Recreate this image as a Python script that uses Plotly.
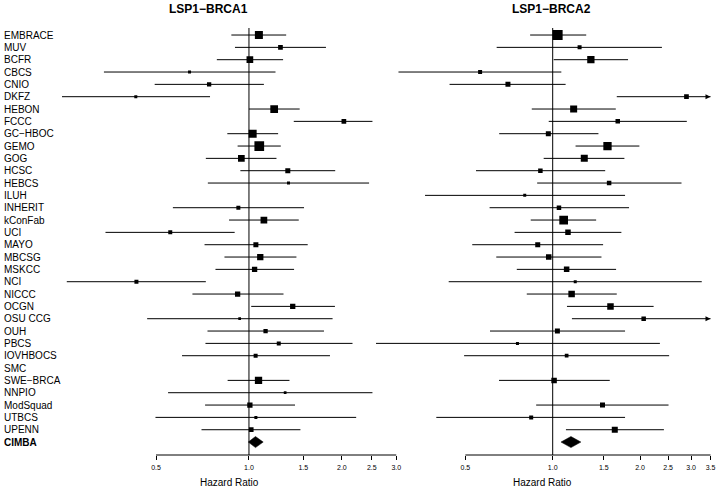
import plotly.graph_objects as go

studies = ["EMBRACE", "MUV", "BCFR", "CBCS", "CNIO", "DKFZ", "HEBON", "FCCC", "GC−HBOC", "GEMO",
           "GOG", "HCSC", "HEBCS", "ILUH", "INHERIT", "kConFab", "UCI", "MAYO", "MBCSG", "MSKCC",
           "NCI", "NICCC", "OCGN", "OSU CCG", "OUH", "PBCS", "IOVHBOCS", "SMC", "SWE−BRCA", "NNPIO",
           "ModSquad", "UTBCS", "UPENN"]
pooled_label = "CIMBA"

# LSP1-BRCA1
b1_hr = [1.077, 1.265, 1.007, 0.642, 0.743, 0.430, 1.207, 2.03, 1.028, 1.08,
         0.945, 1.336, 1.343, None, 0.924, 1.118, 0.556, 1.053, 1.088, 1.043,
         0.432, 0.919, 1.386, 0.933, 1.132, 1.249, 1.051, None, 1.074, 1.31,
         1.007, 1.053, 1.017]
b1_lo = [0.877, 0.901, 0.787, 0.339, 0.495, 0.248, 1.0, 1.397, 0.851, 0.919,
         0.725, 0.938, 0.736, None, 0.567, 0.862, 0.343, 0.718, 0.833, 0.779,
         0.257, 0.656, 1.017, 0.468, 0.734, 0.723, 0.607, None, 0.853, 0.547,
         0.721, 0.498, 0.702]
b1_hi = [1.32, 1.776, 1.29, 1.219, 1.118, 0.748, 1.46, 2.96, 1.243, 1.268,
         1.228, 1.903, 2.45, None, 1.508, 1.45, 0.899, 1.55, 1.425, 1.40,
         0.725, 1.294, 1.899, 1.866, 1.75, 2.165, 1.83, None, 1.353, 3.4,
         1.41, 2.225, 1.468]
b1_wt = [8, 4.7, 6.7, 3, 4.3, 3, 7.7, 4.7, 8, 9.7,
         6.7, 5, 3, None, 4, 6.7, 4, 5, 6.3, 5.3,
         4, 5.3, 5.3, 2.7, 4.3, 4, 4, None, 7.3, 2.7,
         5.3, 3, 4.7]
b1_pool = [1.05, 0.995, 1.112]  # hr, lo, hi

# LSP1-BRCA2
b2_hr = [1.04, 1.238, 1.354, 0.562, 0.701, 2.892, 1.181, 1.676, 0.966, 1.545,
         1.285, 0.907, 1.565, 0.801, 1.051, 1.091, 1.129, 0.888, 0.969, 1.117,
         1.196, 1.162, 1.582, 2.059, 1.038, 0.756, 1.117, None, 1.011, None,
         1.485, 0.843, 1.637]
b2_lo = [0.836, 0.641, 1.008, 0.294, 0.441, 1.663, 0.847, 0.969, 0.654, 1.199,
         0.931, 0.544, 0.884, 0.363, 0.606, 0.840, 0.739, 0.528, 0.639, 0.752,
         0.438, 0.814, 1.12, 1.165, 0.608, 0.246, 0.495, None, 0.653, None,
         0.877, 0.397, 1.111]
b2_hi = [1.305, 2.38, 1.819, 1.071, 1.108, 4.2, 1.65, 2.90, 1.438, 1.99,
         1.767, 1.517, 2.78, 1.776, 1.833, 1.412, 1.725, 1.492, 1.473, 1.654,
         3.265, 1.663, 2.228, 3.9, 1.776, 2.342, 2.52, None, 1.573, None,
         2.508, 1.776, 2.418]
b2_wt = [10, 4, 7.3, 4, 5, 4.7, 7, 4.5, 5, 8.3,
         7, 4.5, 4.5, 3, 4.5, 8.7, 5.5, 5, 5.5, 5.5,
         3, 6.5, 6.5, 4.5, 5, 3, 3.7, None, 5.5, None,
         5, 4, 6]
b2_pool = [1.156, 1.068, 1.251]

b1_ticks = [0.5, 1.0, 1.5, 2.0, 2.5, 3.0]
b2_ticks = [0.5, 1.0, 1.5, 2.0, 2.5, 3.0, 3.5]
titles = ["LSP1−BRCA1", "LSP1−BRCA2"]
xlabel = "Hazard Ratio"

# ---------------- layout constants ----------------
W, H = 720, 487
TOP, BOT = 28, 455
PH = BOT - TOP
FONT = "Liberation Sans, Arial, Helvetica, sans-serif"
rows = list(range(1, len(studies) + 2))
n = len(rows)

fig = go.Figure()


def panel(xa, ya, hr, lo, hi, wt, pool, ticks):
    xmax = ticks[-1]
    lx, ly, ax, ay = [], [], [], []
    px, py, ps = [], [], []
    for i, (h, l, u, w) in enumerate(zip(hr, lo, hi, wt)):
        if h is None:
            continue
        r = rows[i]
        uu = min(u, xmax)
        lx += [l, uu, None]
        ly += [r, r, None]
        if u > xmax:
            ax.append(xmax)
            ay.append(r)
        px.append(h)
        py.append(r)
        ps.append(w)
    fig.add_trace(go.Scatter(x=lx, y=ly, mode="lines", line=dict(color="black", width=1),
                             xaxis=xa, yaxis=ya, hoverinfo="skip", showlegend=False))
    if ax:
        fig.add_trace(go.Scatter(x=ax, y=ay, mode="markers",
                                 marker=dict(symbol="arrow-right", size=5, color="black", opacity=1),
                                 xaxis=xa, yaxis=ya, hoverinfo="skip", showlegend=False))
    fig.add_trace(go.Scatter(x=px, y=py, mode="markers",
                             marker=dict(symbol="square", size=ps, color="black", opacity=1,
                                         line=dict(width=0)),
                             xaxis=xa, yaxis=ya, hoverinfo="skip", showlegend=False))
    r = rows[-1]
    hh = 0.45
    fig.add_trace(go.Scatter(x=[pool[1], pool[0], pool[2], pool[0], pool[1]],
                             y=[r, r - hh, r, r + hh, r], mode="lines", fill="toself",
                             fillcolor="black", line=dict(color="black", width=0.5),
                             xaxis=xa, yaxis=ya, hoverinfo="skip", showlegend=False))


panel("x", "y", b1_hr, b1_lo, b1_hi, b1_wt, b1_pool, b1_ticks)
panel("x2", "y2", b2_hr, b2_lo, b2_hi, b2_wt, b2_pool, b2_ticks)


def xaxis_cfg(dom, rng, ticks, anchor):
    return dict(type="log", domain=dom, range=rng, tickvals=ticks, anchor=anchor,
                ticktext=[f"{t:.1f}" for t in ticks], ticks="outside", ticklen=4,
                tickcolor="black", tickwidth=1, showline=False, showgrid=False,
                zeroline=False, ticklabelstandoff=2,
                tickfont=dict(family=FONT, size=7, color="#000000"))


yr = [n + 1.05, 0.43]
fig.update_layout(
    width=W, height=H,
    margin=dict(l=0, r=0, t=TOP, b=H - BOT),
    paper_bgcolor="white", plot_bgcolor="white",
    xaxis=xaxis_cfg([52 / W, 400 / W], [-0.6387, 0.4839], b1_ticks, "y"),
    xaxis2=xaxis_cfg([374 / W, 716 / W], [-0.6214, 0.5527], b2_ticks, "y2"),
    yaxis=dict(domain=[0, 1], range=yr, visible=False),
    yaxis2=dict(domain=[0, 1], range=yr, visible=False, anchor="x2"),
    font=dict(family=FONT, color="black"),
)

shapes = []
for xr, yr_ref, tk in (("x", "y domain", b1_ticks), ("x2", "y2 domain", b2_ticks)):
    shapes.append(dict(type="line", xref=xr, yref=yr_ref,
                       x0=1, x1=1, y0=0, y1=1, line=dict(color="black", width=1)))
    shapes.append(dict(type="line", xref=xr, yref="paper", x0=tk[0], x1=tk[-1], y0=0, y1=0,
                       line=dict(color="black", width=1)))
fig.update_layout(shapes=shapes)

ann = []
for i, s in enumerate(studies + [pooled_label]):
    txt = f"<b>{s}</b>" if s == pooled_label else s
    ann.append(dict(text=txt, x=2 / W, xref="paper", y=rows[i], yref="y", xanchor="left",
                    yanchor="middle", showarrow=False, font=dict(size=10, family=FONT, color="black")))
for cx, t in ((209, titles[0]), (554, titles[1])):
    ann.append(dict(text=f"<b>{t}</b>", x=cx / W, xref="paper", y=(BOT - 9) / PH, yref="paper",
                    xanchor="center", yanchor="middle", showarrow=False,
                    font=dict(size=12, family=FONT, color="black")))
for cx in (230, 545):
    ann.append(dict(text=xlabel, x=cx / W, xref="paper", y=(BOT - 482.5) / PH, yref="paper",
                    xanchor="center", yanchor="middle", showarrow=False,
                    font=dict(size=10, family=FONT, color="black")))
fig.update_layout(annotations=ann)

fig.write_html("out.html", config={"displayModeBar": False, "staticPlot": True},
               post_script="document.body.style.margin='0';")
